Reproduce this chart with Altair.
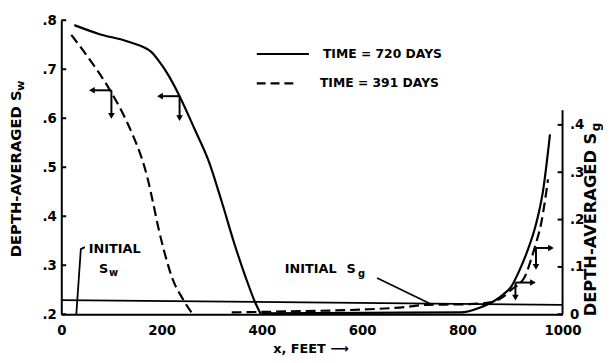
import altair as alt
import pandas as pd

# ---- data ----
# Depth-averaged water saturation (left axis)
sw720_x = [26, 75, 134, 180, 193, 213, 236, 265, 295, 320, 345, 368, 386, 398]
sw720_v = [0.79, 0.772, 0.756, 0.735, 0.719, 0.689, 0.645, 0.58, 0.51, 0.43, 0.345, 0.275, 0.226, 0.2]
sw391_x = [20, 60, 95, 125, 145, 160, 172, 183, 194, 207, 222, 242, 262]
sw391_v = [0.77, 0.715, 0.661, 0.605, 0.56, 0.52, 0.478, 0.428, 0.375, 0.322, 0.272, 0.232, 0.2]
# Depth-averaged gas saturation (right axis)
sg720_x = [400, 600, 797, 837, 862, 882, 898, 912, 931, 947, 961, 975]
sg720_v = [0.002, 0.003, 0.004, 0.015, 0.027, 0.042, 0.059, 0.088, 0.137, 0.19, 0.26, 0.38]
sg391_x = [340, 450, 600, 685, 730, 800, 856, 882, 898, 925, 937, 947, 957, 965, 971]
sg391_v = [0.004, 0.006, 0.01, 0.015, 0.02, 0.021, 0.025, 0.0375, 0.052, 0.08, 0.115, 0.15, 0.19, 0.24, 0.285]
# initial saturation line (drawn from left to right edge)
init_x = [0, 1000]
init_sw = [0.229, 0.219]

x_ticks = [0, 200, 400, 600, 800, 1000]
sw_ticks = [0.2, 0.3, 0.4, 0.5, 0.6, 0.7, 0.8]
sg_ticks = [0, 0.1, 0.2, 0.3, 0.4]

FONT = "DejaVu Sans"

def line_df(xs, vs, field):
    return pd.DataFrame({"x": xs, field: vs})

X = alt.X("x:Q", scale=alt.Scale(domain=[0, 1000], nice=False, zero=False),
          axis=alt.Axis(values=x_ticks, title=None, labelFont=FONT, labelFontWeight="bold",
                        labelFontSize=13.5, labelColor="black", domainColor="black",
                        domainWidth=2, ticks=False, labelPadding=10, grid=False,
                        labelFlush=False, labelExpr="format(datum.value, 'd')"))

YSW = alt.Y("y:Q", scale=alt.Scale(domain=[0.2, 0.8], nice=False, zero=False),
            axis=alt.Axis(values=sw_ticks, title=None, orient="left", labelFont=FONT,
                          labelFontWeight="bold", labelFontSize=13.5, labelColor="black",
                          domainColor="black", domainWidth=2, ticks=False, labelPadding=5,
                          grid=False,
                          labelExpr="replace(format(datum.value, '.1f'), '0.', '.')"))

YSG = alt.Y("g:Q", scale=alt.Scale(domain=[0, 0.621], nice=False, zero=False),
            axis=alt.Axis(values=sg_ticks, title=None, orient="right", labelFont=FONT,
                          labelFontWeight="bold", labelFontSize=13.5, labelColor="black",
                          domain=False, ticks=False, labelPadding=7, grid=False,
                          labelExpr="datum.value == 0 ? '0' : replace(format(datum.value, '.1f'), '0.', '.')"))

LW = 2.2
DASH = [10, 5]

# ---- Sw layers ----
sw720 = alt.Chart(line_df(sw720_x, sw720_v, "y")).mark_line(color="black", strokeWidth=LW, interpolate="monotone").encode(x=X, y=YSW, order="x:Q")
sw391 = alt.Chart(line_df(sw391_x, sw391_v, "y")).mark_line(color="black", strokeWidth=LW, strokeDash=DASH, interpolate="monotone").encode(x=X, y=YSW, order="x:Q")
init_line = alt.Chart(line_df(init_x, init_sw, "y")).mark_line(color="black", strokeWidth=1.8).encode(x=X, y=YSW)

# left inward ticks
sw_tick_df = pd.DataFrame({"y": sw_ticks})
sw_tk = alt.Chart(sw_tick_df).mark_rule(color="black", strokeWidth=2).encode(
    x=alt.value(0), x2=alt.value(5), y=YSW)

# arrows pointing to left axis (horizontal left + vertical down)
arr_sw_hx = [100, 236]
arr_sw_hx2 = [61, 197]
arr_sw_y = [0.657, 0.645]
arr_sw_y2 = [0.605, 0.6]
ah = pd.DataFrame({"x": arr_sw_hx, "x2": arr_sw_hx2, "y": arr_sw_y, "y2": arr_sw_y2})
sw_arr_h = alt.Chart(ah).mark_rule(color="black", strokeWidth=2).encode(x=X, x2="x2:Q", y=YSW)
sw_arr_v = alt.Chart(ah).mark_rule(color="black", strokeWidth=2).encode(x=X, y=YSW, y2="y2:Q")
sw_head_l = alt.Chart(ah).mark_point(shape="triangle-left", filled=True, color="black", size=45, opacity=1).encode(
    x=alt.X("x2:Q", scale=alt.Scale(domain=[0, 1000], nice=False)), y=YSW)
sw_head_d = alt.Chart(ah).mark_point(shape="triangle-down", filled=True, color="black", size=45, opacity=1).encode(
    x=X, y=alt.Y("y2:Q", scale=alt.Scale(domain=[0.2, 0.8], nice=False, zero=False)))

# legend (in Sw coordinates)
leg_x = [390, 390]
leg_x2 = [494, 469]
leg_y = [0.731, 0.671]
leg_txt_x = [522, 516]
leg_labels = ["TIME = 720 DAYS", "TIME = 391 DAYS"]
leg1 = alt.Chart(pd.DataFrame({"x": [leg_x[0], leg_x2[0]], "y": [leg_y[0]] * 2})).mark_line(color="black", strokeWidth=LW).encode(x=X, y=YSW)
leg2 = alt.Chart(pd.DataFrame({"x": [leg_x[1], leg_x2[1]], "y": [leg_y[1]] * 2})).mark_line(color="black", strokeWidth=LW, strokeDash=[9, 5]).encode(x=X, y=YSW)
leg_txt = alt.Chart(pd.DataFrame({"x": leg_txt_x, "y": leg_y, "t": leg_labels})).mark_text(
    align="left", baseline="middle", font=FONT, fontWeight="bold", fontSize=12.5, color="black").encode(x=X, y=YSW, text="t:N")

# initial Sw annotation
isw_txt = alt.Chart(pd.DataFrame({"x": [55], "y": [0.333], "t": ["INITIAL"]})).mark_text(
    align="left", baseline="middle", font=FONT, fontWeight="bold", fontSize=13, color="black").encode(x=X, y=YSW, text="t:N")
isw_s = alt.Chart(pd.DataFrame({"x": [75], "y": [0.293], "t": ["S"]})).mark_text(
    align="left", baseline="middle", font=FONT, fontWeight="bold", fontSize=13, color="black").encode(x=X, y=YSW, text="t:N")
isw_w = alt.Chart(pd.DataFrame({"x": [95], "y": [0.285], "t": ["w"]})).mark_text(
    align="left", baseline="middle", font=FONT, fontWeight="bold", fontSize=10, color="black").encode(x=X, y=YSW, text="t:N")
isw_lead = alt.Chart(pd.DataFrame({"x": [30, 39, 47], "y": [0.2, 0.333, 0.337], "o": [0, 1, 2]})).mark_line(
    color="black", strokeWidth=1.8).encode(x=X, y=YSW, order="o:Q")

# initial Sg annotation (in Sw coordinates)
isg_txt = alt.Chart(pd.DataFrame({"x": [446], "y": [0.292], "t": ["INITIAL"]})).mark_text(
    align="left", baseline="middle", font=FONT, fontWeight="bold", fontSize=13, color="black").encode(x=X, y=YSW, text="t:N")
isg_s = alt.Chart(pd.DataFrame({"x": [569], "y": [0.292], "t": ["S"]})).mark_text(
    align="left", baseline="middle", font=FONT, fontWeight="bold", fontSize=13, color="black").encode(x=X, y=YSW, text="t:N")
isg_g = alt.Chart(pd.DataFrame({"x": [592], "y": [0.282], "t": ["g"]})).mark_text(
    align="left", baseline="middle", font=FONT, fontWeight="bold", fontSize=10, color="black").encode(x=X, y=YSW, text="t:N")
isg_lead = alt.Chart(pd.DataFrame({"x": [630, 735], "y": [0.274, 0.222]})).mark_line(
    color="black", strokeWidth=1.6).encode(x=X, y=YSW)

# axis titles drawn as text (with subscripts)
tsty = dict(font=FONT, fontWeight="bold", color="black", angle=270)
lt_main = alt.Chart(pd.DataFrame({"t": ["DEPTH-AVERAGED S"]})).mark_text(align="right", baseline="middle", fontSize=15, **tsty).encode(
    x=alt.value(-46), y=alt.value(71), text="t:N")
lt_sub = alt.Chart(pd.DataFrame({"t": ["w"]})).mark_text(align="right", baseline="middle", fontSize=11.5, **tsty).encode(
    x=alt.value(-41), y=alt.value(61), text="t:N")
rt_main = alt.Chart(pd.DataFrame({"t": ["DEPTH-AVERAGED S"]})).mark_text(align="right", baseline="middle", fontSize=16.5, **tsty).encode(
    x=alt.value(537), y=alt.value(114), text="t:N")
rt_sub = alt.Chart(pd.DataFrame({"t": ["g"]})).mark_text(align="right", baseline="middle", fontSize=12, **tsty).encode(
    x=alt.value(542), y=alt.value(104), text="t:N")
xt = alt.Chart(pd.DataFrame({"t": ["x, FEET \u27f6"]})).mark_text(align="center", baseline="middle", fontSize=13, font=FONT, fontWeight="bold", color="black").encode(
    x=alt.value(253), y=alt.value(333), text="t:N")

sw_layer = alt.layer(init_line, sw720, sw391, sw_tk, sw_arr_h, sw_arr_v, sw_head_l, sw_head_d,
                     leg1, leg2, leg_txt, isw_txt, isw_s, isw_w, isw_lead,
                     isg_txt, isg_s, isg_g, isg_lead, lt_main, lt_sub, rt_main, rt_sub, xt)

# ---- Sg layers ----
sg720 = alt.Chart(line_df(sg720_x, sg720_v, "g")).mark_line(color="black", strokeWidth=LW, interpolate="monotone").encode(x=X, y=YSG, order="x:Q")
sg391 = alt.Chart(line_df(sg391_x, sg391_v, "g")).mark_line(color="black", strokeWidth=LW, strokeDash=DASH, interpolate="monotone").encode(x=X, y=YSG, order="x:Q")
sg_axis_top = [0.431]
sg_axis = alt.Chart(pd.DataFrame({"g": [0], "g2": sg_axis_top})).mark_rule(color="black", strokeWidth=2).encode(
    x=alt.value(508), y=YSG, y2="g2:Q")
sg_tk = alt.Chart(pd.DataFrame({"g": sg_ticks})).mark_rule(color="black", strokeWidth=2).encode(
    x=alt.value(503), x2=alt.value(508), y=YSG)

arr_sg_x = [906, 947]
arr_sg_x2 = [941, 977]
arr_sg_y = [0.067, 0.14]
arr_sg_y2 = [0.035, 0.1]
ag = pd.DataFrame({"x": arr_sg_x, "x2": arr_sg_x2, "g": arr_sg_y, "g2": arr_sg_y2})
sg_arr_h = alt.Chart(ag).mark_rule(color="black", strokeWidth=2).encode(x=X, x2="x2:Q", y=YSG)
sg_arr_v = alt.Chart(ag).mark_rule(color="black", strokeWidth=2).encode(x=X, y=YSG, y2="g2:Q")
sg_head_r = alt.Chart(ag).mark_point(shape="triangle-right", filled=True, color="black", size=45, opacity=1).encode(
    x=alt.X("x2:Q", scale=alt.Scale(domain=[0, 1000], nice=False)), y=YSG)
sg_head_d = alt.Chart(ag).mark_point(shape="triangle-down", filled=True, color="black", size=45, opacity=1).encode(
    x=X, y=alt.Y("g2:Q", scale=alt.Scale(domain=[0, 0.621], nice=False, zero=False)))

sg_layer = alt.layer(sg720, sg391, sg_axis, sg_tk, sg_arr_h, sg_arr_v, sg_head_r, sg_head_d)

chart = alt.layer(sw_layer, sg_layer).resolve_scale(y="independent").properties(
    width=508, height=298,
    autosize=alt.AutoSizeParams(type="none"),
    padding={"left": 54, "top": 10, "right": 41, "bottom": 47},
    background="white",
).configure_view(stroke=None)

chart.save("out.html", embed_options={"renderer": "svg", "actions": False})
